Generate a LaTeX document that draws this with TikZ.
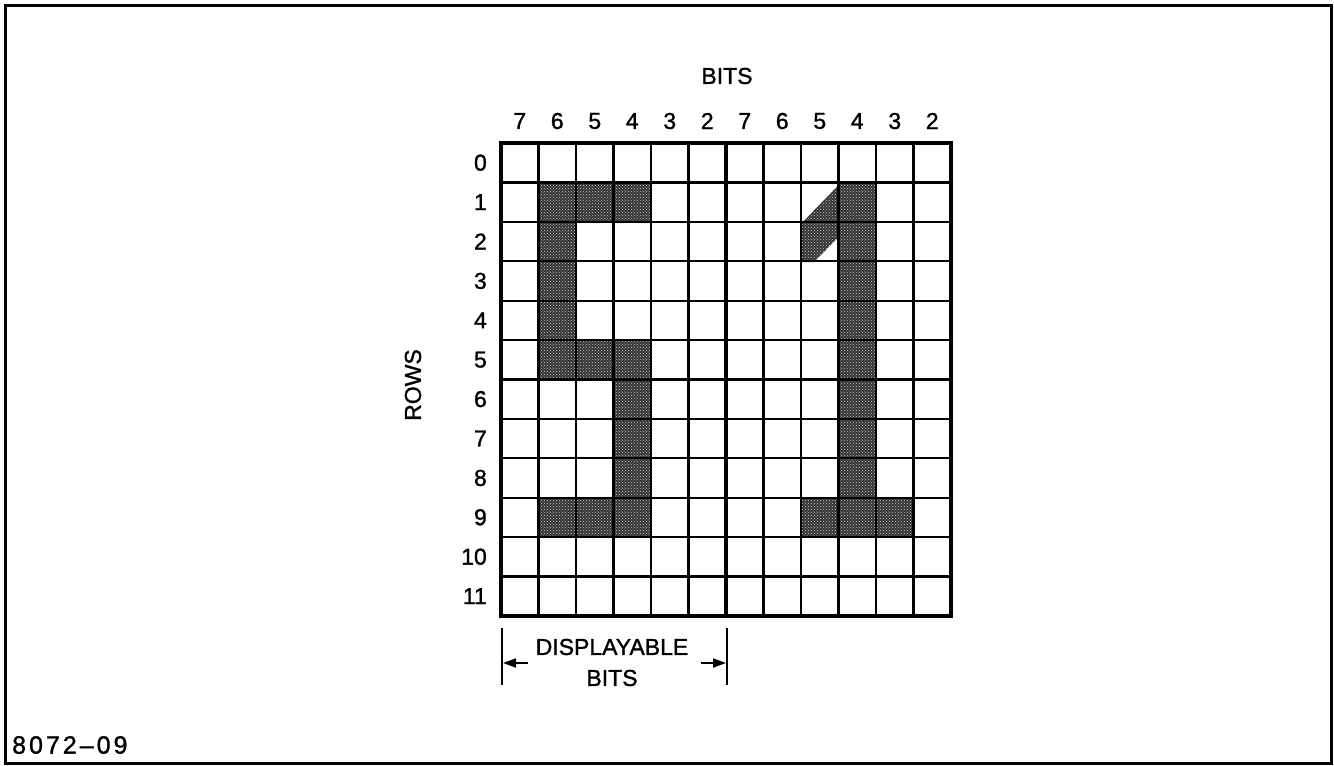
\documentclass[tikz,border=0pt]{standalone}
\usepackage{fontspec}
\setmainfont{Liberation Sans}[FakeBold=1.2]
\newfontfamily\figfont{Liberation Sans}[FakeBold=1.2,LetterSpace=12]
\usetikzlibrary{arrows.meta,patterns}
\begin{document}
\begin{tikzpicture}[x=1pt,y=-1pt,
  lbl/.style={inner sep=0pt,font=\fontsize{23}{27}\selectfont},
  dot/.style={fill=black!80,draw=none},
  dotpat/.style={pattern=crosshatch dots,pattern color=white!80!black},
  thin grid/.style={line width=2.2pt},
  thick grid/.style={line width=3.4pt},
  frame/.style={line width=3pt},
  dimline/.style={line width=1.8pt},
  dimarrow/.style={line width=1.8pt,-{Triangle[length=13pt,width=9pt]}}]
\useasboundingbox (0,0) rectangle (1334,766);
\fill[white] (0,0) rectangle (1334,766);
\draw[frame] (5,5) rectangle (1331,763);
% shaded cells
\def\cw{37.5}\def\rh{39.4}
\foreach \c/\r in {1/1,2/1,3/1,1/2,1/3,1/4,1/5,2/5,3/5,3/6,3/7,3/8,1/9,2/9,3/9,
                   9/1,9/2,9/3,9/4,9/5,9/6,9/7,9/8,8/9,9/9,10/9}{
  \path[dot] ({501+\cw*\c},{143+\rh*\r}) rectangle ({501+\cw*(\c+1)},{143+\rh*(\r+1)});
  \path[dotpat] ({501+\cw*\c},{143+\rh*\r}) rectangle ({501+\cw*(\c+1)},{143+\rh*(\r+1)});
}
\path[dot] (838.5,185) -- (801,224) -- (801,262) -- (814,262) -- (838.5,237) -- cycle;
\path[dotpat] (838.5,185) -- (801,224) -- (801,262) -- (814,262) -- (838.5,237) -- cycle;
% grid
\foreach \i in {1,...,11}{
  \draw[thin grid] ({501+\cw*\i},143) -- ({501+\cw*\i},616);
  \draw[thin grid] (501,{143+\rh*\i}) -- (951,{143+\rh*\i});
}
\draw[thick grid] (726,143) -- (726,616);
\draw[thick grid] (501,143) rectangle (951,616);
% labels
\node[lbl] (bits) at (727,76) {BITS};
\foreach \b [count=\k from 0] in {7,6,5,4,3,2,7,6,5,4,3,2}{
  \node[lbl] (col\k) at ({501+\cw*(\k+0.5)},121) {\b};
}
\foreach \k in {0,...,11}{
  \node[lbl,anchor=east] (row\k) at (487,{143+\rh*(\k+0.5)}) {\k};
}
\node[lbl,rotate=90] (rows) at (413,385) {ROWS};
% displayable bits
\coordinate (bl1) at (502,628); \coordinate (bl2) at (502,685);
\coordinate (br1) at (727,628); \coordinate (br2) at (727,685);
\draw[dimline] (bl1) -- (bl2);
\draw[dimline] (br1) -- (br2);
\coordinate (la0) at (528,663); \coordinate (la1) at (503,663);
\coordinate (ra0) at (701,663); \coordinate (ra1) at (726,663);
\draw[dimarrow] (la0) -- (la1);
\draw[dimarrow] (ra0) -- (ra1);
\node[lbl] (disp) at (612,647) {DISPLAYABLE};
\node[lbl] (dbits) at (612,678) {BITS};
\node[inner sep=0pt,anchor=west,font=\figfont\fontsize{25}{29}\selectfont] (fig) at (12,745) {8072–09};
\end{tikzpicture}
\end{document}
